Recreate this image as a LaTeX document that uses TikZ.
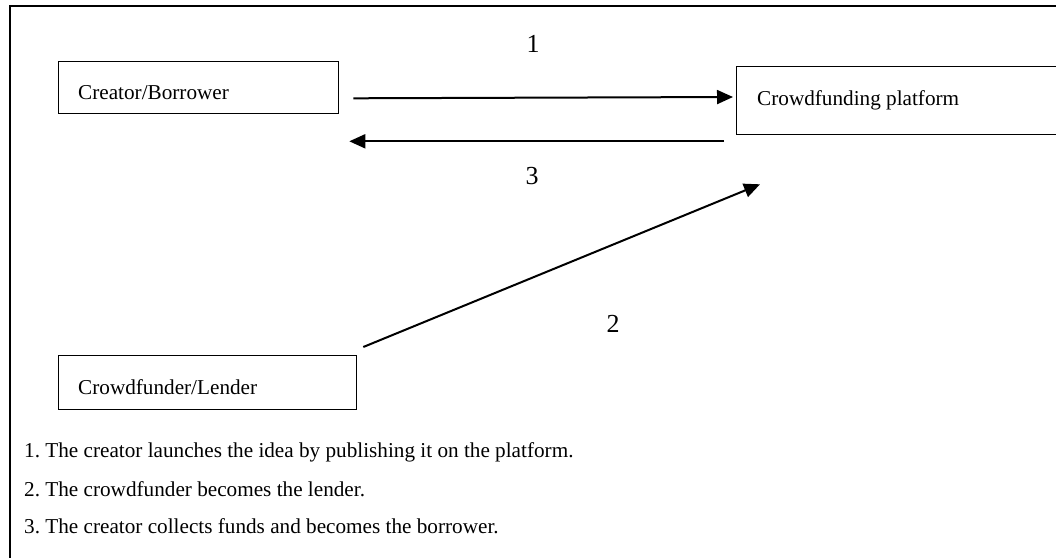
\documentclass[tikz,border=0pt]{standalone}
\usepackage{fontspec}
\setmainfont{Liberation Serif}
\frenchspacing
\usetikzlibrary{arrows.meta,calc}
\tikzset{
  box/.style={draw, line width=1.3pt, inner sep=0pt, anchor=north west},
  lbl/.style={inner sep=0pt, anchor=base west, font=\fontsize{21.2}{24}\selectfont},
  num/.style={inner sep=0pt, font=\fontsize{26}{28}\selectfont},
  conn/.style={line width=2pt, -{Triangle[length=16pt,width=14pt]}},
  frame/.style={line width=2.2pt}
}
\begin{document}
\begin{tikzpicture}[x=1pt,y=-1pt]
\useasboundingbox (0,0) rectangle (1056,557);
\fill[white] (0,0) rectangle (1056,557);
\draw[frame] (10,570) -- (10,6) -- (1070,6);
% boxes
\node[box, minimum width=280pt, minimum height=52pt] (cb) at (58,61) {};
\node[lbl] (cbt) at (78,99) {Creator/Borrower};
\node[box, minimum width=334pt, minimum height=68pt] (pf) at (736,66) {};
\node[lbl] (pft) at (757,105) {Crowdfunding platform};
\node[box, minimum width=298pt, minimum height=54pt] (cl) at (58,355) {};
\node[lbl] (clt) at (78,394) {Crowdfunder/Lender};
% connectors
\draw[conn] ($(cb.south east)+(14,-16)$) -- ($(pf.north west)+(-3,31)$);
\draw[conn] ($(pf.south west)+(-12,6)$) -- ($(cb.south east)+(10,27)$);
\draw[conn] ($(cl.north east)+(6,-8)$) -- ($(pf.south west)+(24,49)$);
% numbers
\node[num] (n1) at (533,44) {1};
\node[num] (n3) at (532,176) {3};
\node[num] (n2) at (613,324) {2};
% footnotes
\node[lbl] (f1) at (24,457) {1. The creator launches the idea by publishing it on the platform.};
\node[lbl] (f2) at (24,496) {2. The crowdfunder becomes the lender.};
\node[lbl] (f3) at (24,533) {3. The creator collects funds and becomes the borrower.};
\end{tikzpicture}
\end{document}
